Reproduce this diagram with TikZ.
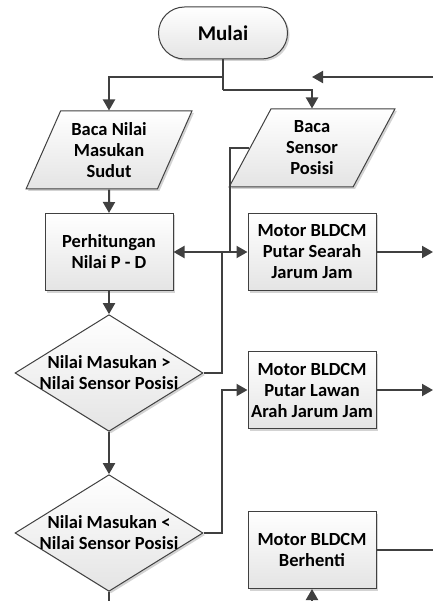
\documentclass[tikz,border=0pt]{standalone}
\usepackage{fontspec}
\setmainfont{Carlito}
\usetikzlibrary{shapes.geometric,arrows.meta,shadows}
\definecolor{garis}{HTML}{404040}
\definecolor{isi}{HTML}{E4E4E4}
\tikzset{every node/.style={font=\bfseries\fontsize{18.5}{21}\selectfont, align=center, text=black},
  kotak/.style={draw=garis, line width=1pt, top color=white, bottom color=isi, inner sep=0pt,
    drop shadow={shadow xshift=2pt, shadow yshift=-2pt, opacity=.35, fill=gray}},
  mulaibox/.style={kotak, rectangle, rounded corners=26pt, minimum width=129pt, minimum height=52pt, font=\bfseries\fontsize{21}{25}\selectfont},
  proses/.style={kotak, rectangle, minimum width=128pt, minimum height=77pt},
  masukan/.style={kotak, trapezium, trapezium left angle=64, trapezium right angle=116, trapezium stretches=true, minimum width=166pt, minimum height=78pt},
  keputusan/.style={kotak, diamond, inner sep=-14pt, minimum width=188pt, minimum height=110pt},
  alur/.style={draw=garis, line width=2pt},
  panah/.style={alur, -{Triangle[length=11pt,width=12pt]}},
  panahdua/.style={alur, {Triangle[length=11pt,width=12pt]}-{Triangle[length=11pt,width=12pt]}}}

\begin{document}
\begin{tikzpicture}[x=1pt,y=-1pt]
  \useasboundingbox (0,0) rectangle (433,601);

  \node[mulaibox] (mulai) at (223,33) {Mulai};
  \node[masukan] (baca) at (109,150) {Baca Nilai\\Masukan\\Sudut};
  \node[masukan] (sensor) at (312,148) {Baca\\Sensor\\Posisi};
  \node[proses] (hitung) at (109,252) {Perhitungan\\Nilai P - D};
  \node[keputusan] (cek1) at (109,373) {Nilai Masukan >\\Nilai Sensor Posisi};
  \node[keputusan] (cek2) at (109,533) {Nilai Masukan <\\Nilai Sensor Posisi};
  \node[proses] (searah) at (312,252) {Motor BLDCM\\Putar Searah\\Jarum Jam};
  \node[proses] (lawan) at (312,390) {Motor BLDCM\\Putar Lawan\\Arah Jarum Jam};
  \node[proses] (henti) at (312,550) {Motor BLDCM\\Berhenti};

  \coordinate (cabang1) at (223,77);
  \coordinate (cabang2) at (223,90);
  \coordinate (balik) at (433,77);
  \coordinate (simpul1) at (230,252);
  \coordinate (simpul2) at (222,252);
  \coordinate (simpul3) at (222,390);
  \coordinate (keluar1) at (433,252);
  \coordinate (keluar2) at (433,390);
  \coordinate (keluar3) at (433,550);
  \coordinate (bawah) at (109,601);
  \coordinate (masuk) at (312,601);

  \draw[alur] (mulai.south) -- (cabang2);
  \draw[panah] (cabang2) -| (sensor.north);
  \draw[panah] (cabang1) -| (baca.north);
  \draw[panah] (balik) -- (sensor.north |- balik);
  \draw[panah] (baca.south) -- (hitung.north);
  \draw[alur] (sensor.west) -| (simpul1);
  \draw[alur] (cek1.east) -| (simpul2);
  \draw[panahdua] (hitung.east) -- (searah.west);
  \draw[panah] (hitung.south) -- (cek1.north);
  \draw[panah] (cek1.south) -- (cek2.north);
  \draw[panah] (cek2.east) -| (simpul3) -- (lawan.west);
  \draw[alur] (cek2.south) -- (bawah);
  \draw[panah] (searah.east) -- (keluar1);
  \draw[panah] (lawan.east) -- (keluar2);
  \draw[alur] (henti.east) -- (keluar3);
  \draw[panah] (masuk) -- (henti.south);
\end{tikzpicture}
\end{document}
